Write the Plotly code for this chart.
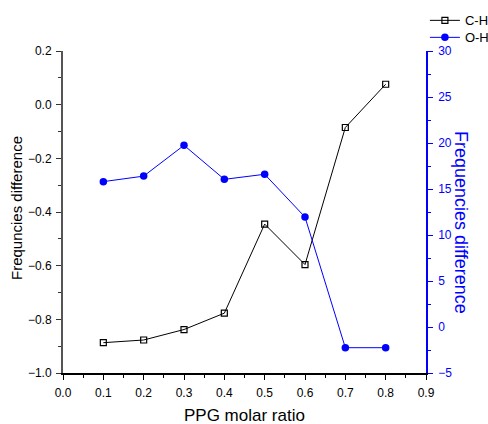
import plotly.graph_objects as go

ppg_ratio = [0.1, 0.2, 0.3, 0.4, 0.5, 0.6, 0.7, 0.8]
ch_diff = [-0.887, -0.877, -0.838, -0.777, -0.445, -0.596, -0.085, 0.076]
oh_diff = [15.8, 16.4, 19.75, 16.05, 16.6, 11.95, -2.25, -2.25]

BLUE = "#0000FF"
FONT = "Liberation Sans, Arial, sans-serif"

fig = go.Figure()
fig.add_trace(go.Scatter(
    x=ppg_ratio, y=ch_diff, name="C-H", mode="lines+markers",
    line=dict(color="black", width=1),
    marker=dict(symbol="square-open", size=6, color="black", line=dict(width=1.2)),
    xaxis="x", yaxis="y", legend="legend"))
fig.add_trace(go.Scatter(
    x=ppg_ratio, y=oh_diff, name="O-H", mode="lines+markers",
    line=dict(color=BLUE, width=1),
    marker=dict(symbol="circle", size=7.5, color=BLUE),
    xaxis="x", yaxis="y2", legend="legend2"))

leg_common = dict(xref="paper", yref="paper", xanchor="left", yanchor="top",
                  font=dict(size=13, color="black"), bgcolor="rgba(0,0,0,0)",
                  itemwidth=30)

fig.update_layout(
    width=488, height=424,
    margin=dict(l=63, r=62, t=51, b=51, autoexpand=False),
    paper_bgcolor="white", plot_bgcolor="white",
    font=dict(family=FONT, size=12, color="black"),
    showlegend=True,
    legend=dict(x=0.997, y=1.1416, **leg_common),
    legend2=dict(x=0.997, y=1.0888, **leg_common),
    xaxis=dict(range=[0, 0.9], dtick=0.1, tick0=0, tickformat=".1f",
               showgrid=False, zeroline=False, showline=True, automargin=False,
               linecolor="black", linewidth=1.5,
               ticks="outside", ticklen=5, tickwidth=1, tickcolor="black",
               minor=dict(ticks="outside", ticklen=3, dtick=0.05, tick0=0,
                          tickcolor="black", showgrid=False),
               tickfont=dict(size=12), ticklabelstandoff=3),
    xaxis2=dict(range=[0, 0.9], overlaying="x", side="top", anchor="y",
                dtick=0.1, tick0=0, showticklabels=False, automargin=False,
                showgrid=False, zeroline=False, showline=True,
                linecolor="black", linewidth=1.5,
                ticks="inside", ticklen=5, tickcolor="black",
                minor=dict(ticks="inside", ticklen=3, dtick=0.05, tick0=0,
                           tickcolor="black", showgrid=False)),
    yaxis=dict(range=[-1.0, 0.2], dtick=0.2, tick0=0, tickformat=".1f",
               showgrid=False, zeroline=False, showline=True, automargin=False,
               linecolor="#555555", linewidth=2,
               ticks="outside", ticklen=5, tickwidth=1, tickcolor="#333333",
               minor=dict(ticks="outside", ticklen=3, dtick=0.1, tick0=0,
                          tickcolor="#333333", showgrid=False),
               tickfont=dict(size=12), ticklabelstandoff=2),
    yaxis2=dict(range=[-5, 30], dtick=5, tick0=0, overlaying="y", side="right",
                anchor="x", showgrid=False, zeroline=False, showline=True,
                automargin=False,
                linecolor=BLUE, linewidth=1.5,
                ticks="outside", ticklen=5, tickwidth=1, tickcolor=BLUE,
                minor=dict(ticks="outside", ticklen=3, dtick=2.5, tick0=0,
                           tickcolor=BLUE, showgrid=False),
                tickfont=dict(size=12, color=BLUE), ticklabelstandoff=3),
    annotations=[
        dict(text="PPG molar ratio", xref="paper", yref="paper",
             x=0.5, y=0, yshift=-42, xanchor="center", yanchor="middle",
             showarrow=False, font=dict(size=17, color="black")),
        dict(text="Frequncies difference", xref="paper", yref="paper",
             x=0, y=0.5, xshift=-47, yshift=4, textangle=-90,
             xanchor="center", yanchor="middle",
             showarrow=False, font=dict(size=15, color="black")),
        dict(text="Frequencies difference", xref="paper", yref="paper",
             x=1, y=0.5, xshift=35, yshift=-10, textangle=90,
             xanchor="center", yanchor="middle",
             showarrow=False, font=dict(size=18, color=BLUE)),
    ],
)

fig.write_html("out.html",
               config={"displayModeBar": False},
               post_script="document.body.style.margin='0';document.body.style.overflow='hidden';")
